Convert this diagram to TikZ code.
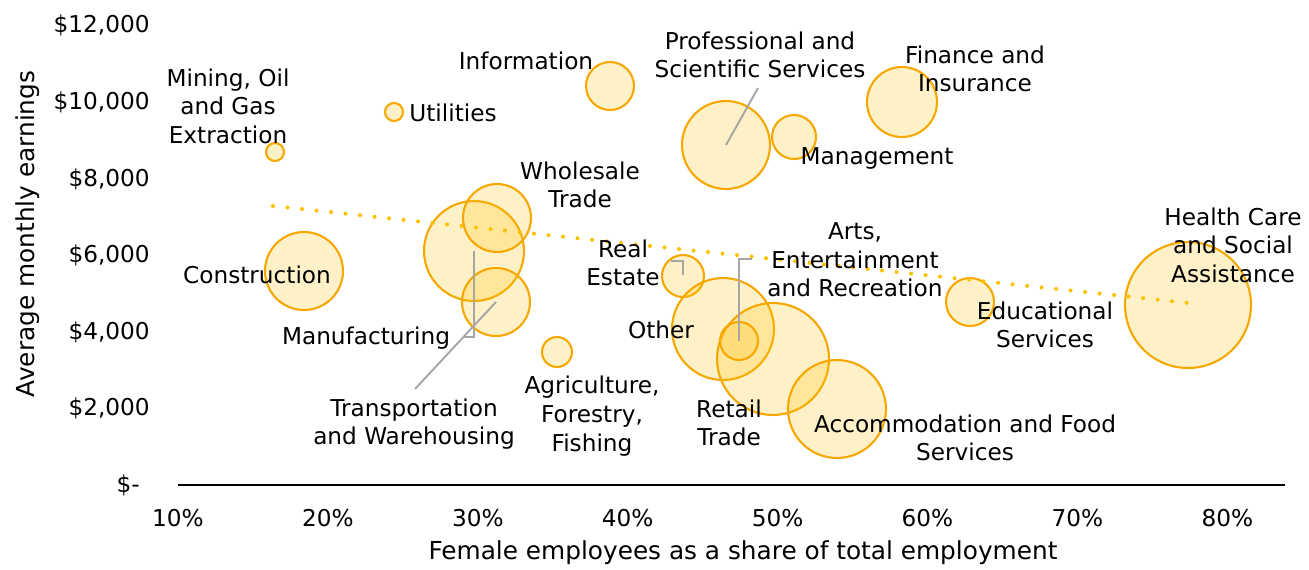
\documentclass[tikz,border=0pt]{standalone}
\usepackage{fontspec}
\setmainfont{DejaVu Sans}
\definecolor{bubline}{RGB}{247,168,0}
\definecolor{bubfill}{RGB}{255,192,0}
\definecolor{trend}{RGB}{255,192,0}
\definecolor{leader}{RGB}{166,166,166}
\begin{document}
\begin{tikzpicture}[x=0.02cm,y=-0.02cm,
  bub/.style={circle, draw=bubline, fill=bubfill, fill opacity=0.22, draw opacity=1, line width=1.2pt, minimum size=#1*0.04cm, inner sep=0pt, outer sep=0pt},
  lbl/.style={align=center, inner sep=0pt, font=\fontsize{13.2pt}{16.3pt}\selectfont},
  tick/.style={inner sep=0pt, font=\fontsize{13.2pt}{16.3pt}\selectfont},
  ttl/.style={inner sep=0pt, font=\fontsize{14.1pt}{17pt}\selectfont},
  lead/.style={draw=leader, line width=1.1pt},
  trendline/.style={draw=trend, line width=2.3pt, line cap=round, dash pattern=on 0pt off 8.3pt}
]
\useasboundingbox (0,0) rectangle (1309,569);
% axis
\coordinate (ax0) at (178,485);
\coordinate (ax1) at (1285,485);
\draw[line width=1.2pt] (ax0) -- (ax1);
% y ticks
\node[tick, anchor=east] (y12) at (150,25) {\$12,000};
\node[tick, anchor=east] (y10) at (150,102) {\$10,000};
\node[tick, anchor=east] (y8) at (150,179) {\$8,000};
\node[tick, anchor=east] (y6) at (150,255) {\$6,000};
\node[tick, anchor=east] (y4) at (150,332) {\$4,000};
\node[tick, anchor=east] (y2) at (150,408) {\$2,000};
\node[tick, anchor=east] (y0) at (140,485) {\$-};
% x ticks
\foreach \p [count=\i from 0] in {10,20,30,40,50,60,70,80}
  \node[tick] (x\p) at (178+149.9*\i,518) {\p\%};
% axis titles
\node[ttl] (xt) at (743,553) {Female employees as a share of total employment};
\node[ttl, rotate=90] (yt) at (28,234) {Average monthly earnings};
% bubbles
\node[bub=9] (mining) at (275,152) {};
\node[bub=9] (util) at (394,112) {};
\node[bub=24] (info) at (610,86) {};
\node[bub=44] (prof) at (726,145) {};
\node[bub=22] (mgmt) at (794,137) {};
\node[bub=35] (fin) at (902,102) {};
\node[bub=39] (constr) at (304,271) {};
\node[bub=50] (manuf) at (474,251) {};
\node[bub=34] (whole) at (497,218) {};
\node[bub=34] (trans) at (496,302) {};
\node[bub=15] (agri) at (557,352) {};
\node[bub=21] (real) at (683,276) {};
\node[bub=51] (other) at (723,329) {};
\node[bub=56] (retail) at (773,359) {};
\node[bub=19] (arts) at (739,341) {};
\node[bub=49] (accom) at (837,409) {};
\node[bub=24] (edu) at (970,302) {};
\node[bub=63] (health) at (1188,305) {};
% trend line
\coordinate (t0) at (273,206);
\coordinate (t1) at (1189,303);
\draw[trendline] (t0) -- (t1);
% leaders
\coordinate (manufA) at (474,337);
\coordinate (manufB) at (464,337);
\draw[lead] (manuf.center) -- (manufA) -- (manufB);
\coordinate (transA) at (415,389);
\draw[lead] (trans.center) -- (transA);
\coordinate (profA) at (758,88);
\draw[lead] (prof.center) -- (profA);
\coordinate (realA) at (683,261);
\coordinate (realB) at (671,261);
\draw[lead] ([yshift=0.02cm]real.center) -- (realA) -- (realB);
\coordinate (artsA) at (739,259);
\coordinate (artsB) at (752,259);
\draw[lead] (arts.center) -- (artsA) -- (artsB);
% labels
\node[lbl] (Lmining) at (228,106) {Mining, Oil\\and Gas\\Extraction};
\node[lbl, anchor=west] (Lutil) at (409,113) {Utilities};
\node[lbl] (Linfo) at (526,61) {Information};
\node[lbl] (Lprof) at (760,55) {Professional and\\Scientific Services};
\node[lbl] (Lfin) at (975,69) {Finance and\\Insurance};
\node[lbl] (Lmgmt) at (877,158) {Management};
\node[lbl] (Lwhole) at (580,185) {Wholesale\\Trade};
\node[lbl] (Lconstr) at (257,275) {Construction};
\node[lbl] (Lreal) at (623,263) {Real\\Estate};
\node[lbl] (Larts) at (855,260) {Arts,\\Entertainment\\and Recreation};
\node[lbl] (Lhealth) at (1233,245) {Health Care\\and Social\\Assistance};
\node[lbl] (Ledu) at (1045,325) {Educational\\Services};
\node[lbl] (Lmanuf) at (366,338) {Manufacturing};
\node[lbl] (Lother) at (661,330) {Other};
\node[lbl] (Ltrans) at (414,424) {Transportation\\and Warehousing};
\node[lbl] (Lagri) at (592,416) {Agriculture,\\Forestry,\\Fishing};
\node[lbl] (Lretail) at (729,423) {Retail\\Trade};
\node[lbl] (Laccom) at (965,438) {Accommodation and Food\\Services};
\end{tikzpicture}
\end{document}
